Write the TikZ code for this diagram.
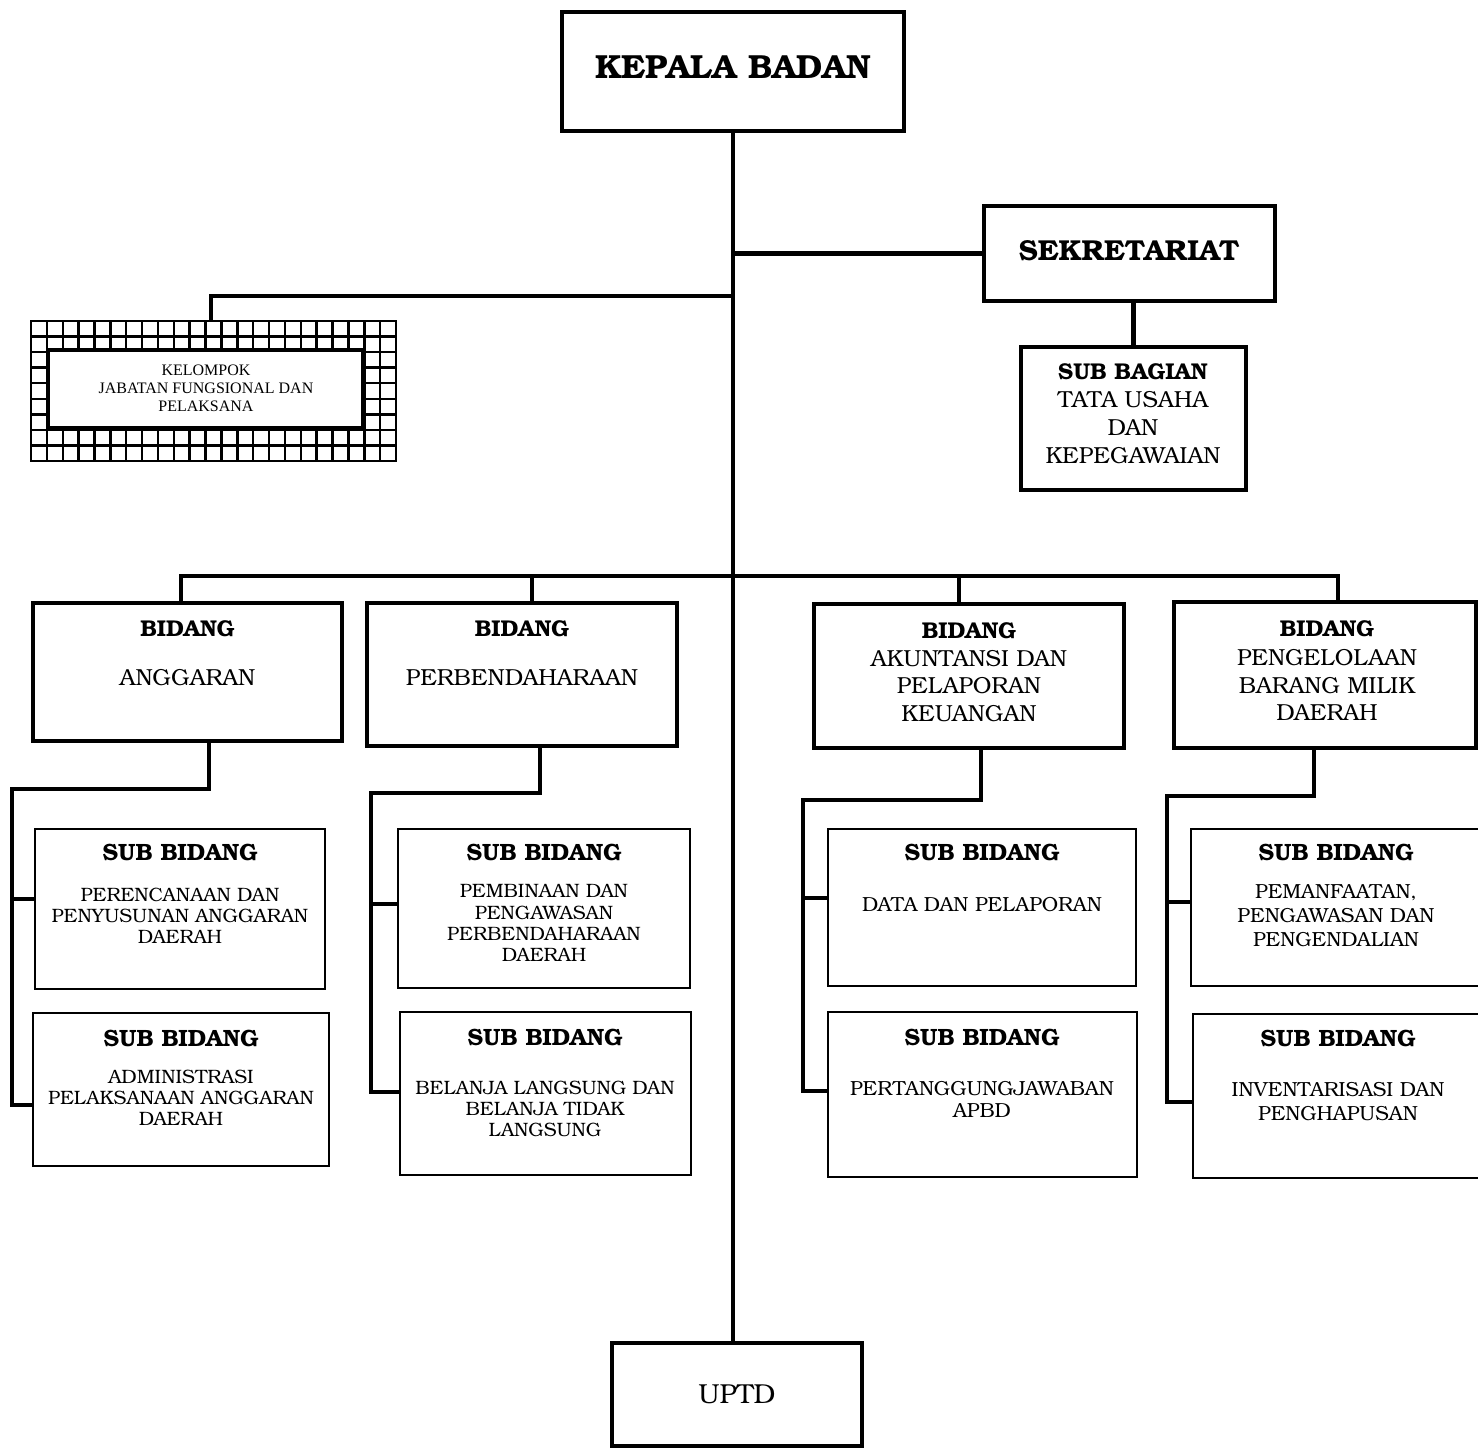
\documentclass[tikz,border=0pt]{standalone}
\usepackage{fontspec}
\setmainfont{TeX Gyre Bonum}
\newfontfamily\kjfont{Liberation Serif}
\usepackage{tikz}

\tikzset{
  headbox/.style={draw, line width=1.2pt, inner sep=0pt, outer sep=0pt},
  subbox/.style={draw, line width=0.55pt, inner sep=0pt, outer sep=0pt},
  link/.style={line width=1.25pt},
  txt/.style={align=center, inner sep=0pt},
  bigtext/.style={txt, font=\fontsize{9.5}{11}\selectfont\bfseries},
  headtext/.style={txt, font=\fontsize{6.5}{7.9}\selectfont\bfseries},
  midtext/.style={txt, font=\fontsize{6.6}{7.9}\selectfont},
  subttext/.style={txt, font=\fontsize{6.7}{7}\selectfont\bfseries},
  subtext/.style={txt, font=\fontsize{5.5}{6}\selectfont},
}

\begin{document}
\begin{tikzpicture}[x=0.01cm, y=-0.01cm]
  \useasboundingbox (0,0) rectangle (1478,1448);
  \clip (0,0) rectangle (1478,1448);

  % top level
  \node[headbox, minimum width=3.42cm, minimum height=1.19cm] (kepala) at (733,71.5) {};
  \node[bigtext] (kepalat) at (733,67) {KEPALA BADAN};
  \node[headbox, minimum width=2.91cm, minimum height=0.95cm] (sekre) at (1129.5,253.5) {};
  \node[bigtext, font=\fontsize{8.2}{10}\selectfont\bfseries] (sekret) at (1129,251) {SEKRETARIAT};
  \node[headbox, line width=0.9pt, minimum width=2.25cm, minimum height=1.43cm] (subbag) at (1133.5,418.5) {};
  \node[headtext] (subbagt) at (1133,372) {SUB BAGIAN};
  \node[midtext] (subbagb) at (1133,427.5) {TATA USAHA\\DAN\\KEPEGAWAIAN};
  \node[headbox, minimum width=2.5cm, minimum height=1.03cm] (uptd) at (737,1394.5) {};
  \node[midtext, font=\fontsize{7.8}{9}\selectfont] (uptdt) at (737,1394) {UPTD};

  % kelompok jabatan fungsional (grid frame)
  \node[draw, line width=0.7pt, inner sep=0pt, minimum width=3.65cm, minimum height=1.4cm] (grid) at (213.5,391) {};
  \foreach \i in {1,...,22}
    \draw[line width=0.7pt] (31+\i*15.87,321) -- ++(0,140);
  \foreach \j in {1,...,8}
    \draw[line width=0.7pt] (31,321+\j*15.56) -- ++(365,0);
  \node[draw, fill=white, line width=0.9pt, minimum width=3.13cm, minimum height=0.78cm] (kelompok) at (205.5,389) {};
  \node[txt, font=\kjfont\fontsize{4.55}{5.1}\selectfont] (kelompokt) at (206,388) {KELOMPOK\\JABATAN FUNGSIONAL DAN\\PELAKSANA};

  % bidang
  \node[headbox, minimum width=3.09cm, minimum height=1.38cm] (bid1) at (187.5,672) {};
  \node[headtext] (bid1t) at (187.5,629) {BIDANG};
  \node[midtext] (bid1b) at (187.5,678) {ANGGARAN};
  \node[headbox, minimum width=3.1cm, minimum height=1.43cm] (bid2) at (522,674.5) {};
  \node[headtext] (bid2t) at (522,629) {BIDANG};
  \node[midtext] (bid2b) at (522,678) {PERBENDAHARAAN};
  \node[headbox, minimum width=3.1cm, minimum height=1.44cm] (bid3) at (969,676) {};
  \node[headtext] (bid3t) at (969,631) {BIDANG};
  \node[midtext] (bid3b) at (969,686) {AKUNTANSI DAN\\PELAPORAN\\KEUANGAN};
  \node[headbox, minimum width=3.02cm, minimum height=1.46cm] (bid4) at (1325,675) {};
  \node[headtext] (bid4t) at (1327,629) {BIDANG};
  \node[midtext] (bid4b) at (1327,685) {PENGELOLAAN\\BARANG MILIK\\DAERAH};

  % sub bidang
  \node[subbox, minimum width=2.9cm, minimum height=1.6cm] (sb11) at (180,909) {};
  \node[subttext] (sb11t) at (180,852) {SUB BIDANG};
  \node[subtext] (sb11b) at (180,916) {PERENCANAAN DAN\\PENYUSUNAN ANGGARAN\\DAERAH};
  \node[subbox, minimum width=2.96cm, minimum height=1.53cm] (sb12) at (181,1089.5) {};
  \node[subttext] (sb12t) at (181,1038) {SUB BIDANG};
  \node[subtext] (sb12b) at (181,1098) {ADMINISTRASI\\PELAKSANAAN ANGGARAN\\DAERAH};
  \node[subbox, minimum width=2.92cm, minimum height=1.59cm] (sb21) at (544,908.5) {};
  \node[subttext] (sb21t) at (544,852) {SUB BIDANG};
  \node[subtext] (sb21b) at (544,923) {PEMBINAAN DAN\\PENGAWASAN\\PERBENDAHARAAN\\DAERAH};
  \node[subbox, minimum width=2.91cm, minimum height=1.63cm] (sb22) at (545.5,1093.5) {};
  \node[subttext] (sb22t) at (545,1037) {SUB BIDANG};
  \node[subtext] (sb22b) at (545,1109) {BELANJA LANGSUNG DAN\\BELANJA TIDAK\\LANGSUNG};
  \node[subbox, minimum width=3.08cm, minimum height=1.57cm] (sb31) at (982,907.5) {};
  \node[subttext] (sb31t) at (982,852) {SUB BIDANG};
  \node[subtext, font=\fontsize{5.8}{6.4}\selectfont] (sb31b) at (982,905) {DATA DAN PELAPORAN};
  \node[subbox, minimum width=3.09cm, minimum height=1.65cm] (sb32) at (982.5,1094.5) {};
  \node[subttext] (sb32t) at (982,1037) {SUB BIDANG};
  \node[subtext, font=\fontsize{5.8}{6.4}\selectfont] (sb32b) at (982,1099.5) {PERTANGGUNGJAWABAN\\APBD};
  \node[subbox, minimum width=2.89cm, minimum height=1.57cm] (sb41) at (1335.5,907.5) {};
  \node[subttext] (sb41t) at (1336,852) {SUB BIDANG};
  \node[subtext, font=\fontsize{5.8}{6.8}\selectfont] (sb41b) at (1336,916) {PEMANFAATAN,\\PENGAWASAN DAN\\PENGENDALIAN};
  \node[subbox, minimum width=2.87cm, minimum height=1.64cm] (sb42) at (1336.5,1096) {};
  \node[subttext] (sb42t) at (1338,1038) {SUB BIDANG};
  \node[subtext, font=\fontsize{5.8}{6.8}\selectfont] (sb42b) at (1338,1102) {INVENTARISASI DAN\\PENGHAPUSAN};

  % connectors
  \coordinate (kjoin) at (733,296);
  \coordinate (bar) at (733,576);
  \draw[link, line width=1.4pt] (kepala.south) -- (kepala.south |- uptd.north);
  \draw[link] (sekre.west) -- (sekre.west -| kepala.south);
  \draw[link] (subbag.north) -- (subbag.north |- sekre.south);
  \draw[link] (211,0 |- grid.north) |- (kjoin);
  \draw[link] (181,0 |- bid1.north) |- (bar);
  \draw[link] (532,0 |- bid2.north) |- (bar);
  \draw[link] (959,0 |- bid3.north) |- (bar);
  \draw[link] (1338,0 |- bid4.north) |- (bar);

  % bidang anggaran
  \draw[link] (209,0 |- bid1.south) |- (12,789) |- (sb12.west |- 0,1105);
  \draw[link] (12,899) -- (sb11.west |- 0,899);
  % bidang perbendaharaan
  \draw[link] (540,0 |- bid2.south) |- (371,793) |- (sb22.west |- 0,1092);
  \draw[link] (371,904) -- (sb21.west |- 0,904);
  % bidang akuntansi
  \draw[link] (981,0 |- bid3.south) |- (803,800) |- (sb32.west |- 0,1091);
  \draw[link] (803,898) -- (sb31.west |- 0,898);
  % bidang pengelolaan
  \draw[link] (1314,0 |- bid4.south) |- (1167,796) |- (sb42.west |- 0,1102);
  \draw[link] (1167,902) -- (sb41.west |- 0,902);
\end{tikzpicture}
\end{document}
